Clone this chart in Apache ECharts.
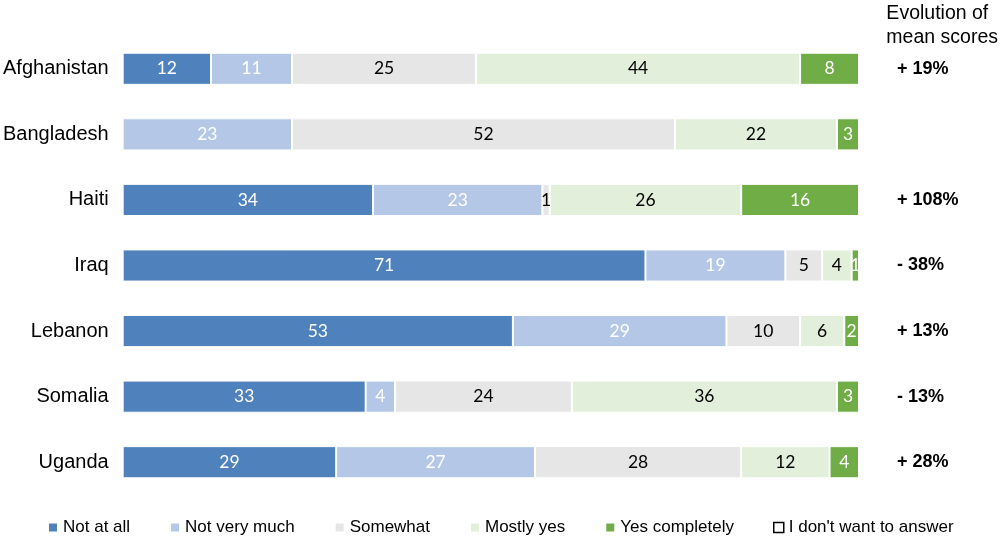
<!DOCTYPE html>
<html><head><meta charset="utf-8">
<script src="https://cdn.jsdelivr.net/npm/echarts@6/dist/echarts.min.js"></script>
<style>html,body{margin:0;padding:0;background:#fff}#c{width:1000px;height:537px}</style>
</head><body><div id="c"></div>
<script>
const countries = ['Afghanistan','Bangladesh','Haiti','Iraq','Lebanon','Somalia','Uganda'];
const notAtAll = [12, 0, 34, 71, 53, 33, 29];
const notVeryMuch = [11, 23, 23, 19, 29, 4, 27];
const somewhat = [25, 52, 1, 5, 10, 24, 28];
const mostlyYes = [44, 22, 26, 4, 6, 36, 12];
const yesCompletely = [8, 3, 16, 1, 2, 3, 4];
const noAnswer = [0, 0, 0, 0, 0, 0, 0];
const evolution = ['+ 19%', '', '+ 108%', '- 38%', '+ 13%', '- 13%', '+ 28%'];
const seriesNames = ['Not at all','Not very much','Somewhat','Mostly yes','Yes completely',"I don't want to answer"];

const colors = ['#4F81BD','#B4C7E7','#E7E6E6','#E2EFDA','#70AD47','#FFFFFF'];
const labelColors = ['#fff','#fff','#000','#000','#fff','#000'];
const dataSets = [notAtAll, notVeryMuch, somewhat, mostlyYes, yesCompletely, noAnswer];

const chart = echarts.init(document.getElementById('c'));
chart.setOption({
  animation: false,
  graphic: [{
    type: 'text', right: 2, top: 2,
    style: {text: 'Evolution of\nmean scores', fontFamily: 'Liberation Sans', fontSize: 19.5, lineHeight: 24, fill: '#000', align: 'right'}
  }],
  grid: {left: 121, right: 141, top: 36, bottom: 42},
  legend: {
    top: 514, left: 42, itemWidth: 10, itemHeight: 10, itemGap: 39,
    icon: 'rect',
    textStyle: {fontFamily: 'Liberation Sans', fontSize: 17, color: '#000'},
    data: seriesNames.map((n, i) => i === 5 ? {name: n, itemStyle: {color: '#fff', borderColor: '#000', borderWidth: 1.5}} : {name: n})
  },
  xAxis: {type: 'value', min: 0, max: 100, show: false},
  yAxis: [{
    type: 'category', data: countries, inverse: true,
    axisLine: {show: false}, axisTick: {show: false},
    axisLabel: {fontFamily: 'Liberation Sans', fontSize: 20, color: '#000', margin: 14}
  }, {
    type: 'category', data: countries, inverse: true, position: 'right',
    axisLine: {show: false}, axisTick: {show: false},
    axisLabel: {fontFamily: 'Liberation Sans', fontWeight: 'bold', fontSize: 18, color: '#000', margin: 38, align: 'left',
      formatter: (v, i) => evolution[i]}
  }],
  series: seriesNames.map((name, i) => ({
    name, type: 'bar', stack: 'total', barWidth: '49%',
    data: dataSets[i],
    itemStyle: {color: colors[i], borderColor: '#fff', borderWidth: i === 5 ? 0 : 1},
    label: {
      show: i < 5, position: 'inside', color: labelColors[i],
      fontFamily: 'Lato', fontSize: 17.5,
      formatter: p => p.value ? String(p.value) : ''
    }
  }))
});
</script></body></html>
